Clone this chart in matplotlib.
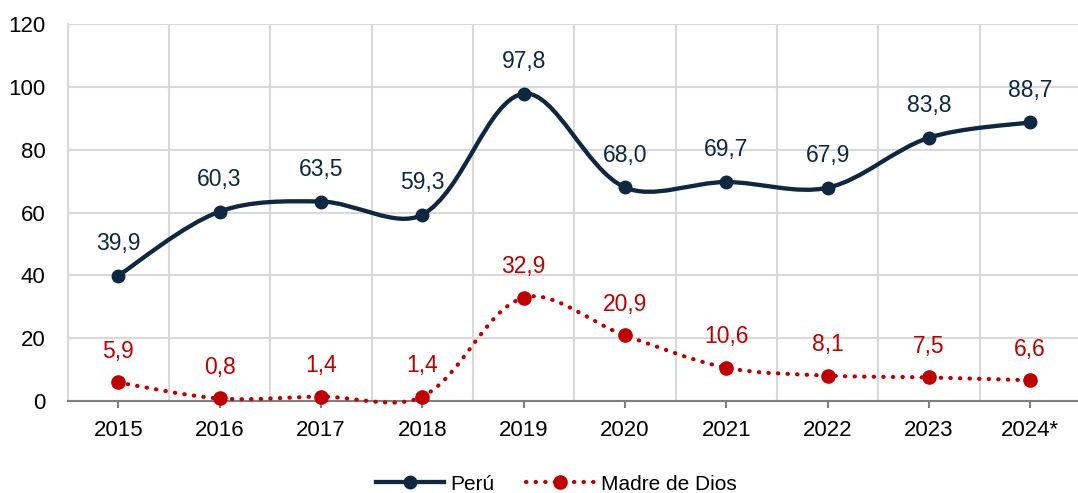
import numpy as np
import matplotlib
matplotlib.use("Agg")
import matplotlib.pyplot as plt
from matplotlib.path import Path
from matplotlib.patches import PathPatch
from matplotlib.lines import Line2D

years = ["2015", "2016", "2017", "2018", "2019", "2020", "2021", "2022", "2023", "2024*"]
peru = [39.9, 60.3, 63.5, 59.3, 97.8, 68.0, 69.7, 67.9, 83.8, 88.7]
madre = [5.9, 0.8, 1.4, 1.4, 32.9, 20.9, 10.6, 8.1, 7.5, 6.6]

NAVY = "#0E2841"
RED = "#C00000"
GRID = "#D9D9D9"
FONT = ["Liberation Sans", "DejaVu Sans"]
DOTS = (0, (0.1, 2.2))


def smooth_path(ax, xs, ys):
    """curva suavizada tipo Excel: Bezier cúbica, puntos de control calculados en pixeles
    y escalados por la longitud de cada tramo."""
    tr = ax.transData
    pts = tr.transform(np.column_stack([xs, ys]).astype(float))
    n = len(pts)
    d = np.hypot(*np.diff(pts, axis=0).T)
    verts, codes = [pts[0]], [Path.MOVETO]
    for i in range(n - 1):
        p0 = pts[max(i - 1, 0)]
        p1, p2 = pts[i], pts[i + 1]
        p3 = pts[min(i + 2, n - 1)]
        da = d[i - 1] if i > 0 else d[i]
        dc = d[i + 1] if i < n - 2 else d[i]
        c1 = p1 + (p2 - p0) * d[i] / (da + d[i]) / 3.0
        c2 = p2 - (p3 - p1) * d[i] / (d[i] + dc) / 3.0
        verts += [c1, c2, p2]
        codes += [Path.CURVE4] * 3
    return Path(tr.inverted().transform(np.array(verts)), codes)


fig = plt.figure(figsize=(10.78, 4.93), dpi=100)
ax = fig.add_axes([0.0627, 0.1866, 0.940, 0.7647])
x = np.arange(len(years))
ax.set_xlim(-0.5, len(years) - 0.5)
ax.set_ylim(0, 120)

ax.add_patch(PathPatch(smooth_path(ax, x, peru), fill=False, edgecolor=NAVY, lw=3.1,
                       capstyle="round", zorder=3, clip_on=False))
ax.plot(x, peru, "o", color=NAVY, ms=9, zorder=4)

ax.add_patch(PathPatch(smooth_path(ax, x, madre), fill=False, edgecolor=RED, lw=3,
                       linestyle=DOTS, capstyle="round", zorder=3, clip_on=False))
ax.plot(x, madre, "o", color=RED, ms=9.5, zorder=4, clip_on=False)

for xi, v in zip(x, peru):
    ax.annotate(f"{v:.1f}".replace(".", ","), (xi, v), xytext=(0, 18.5), textcoords="offset points",
                ha="center", va="baseline", color=NAVY, fontsize=16.5, family=FONT)
for xi, v in zip(x, madre):
    ax.annotate(f"{v:.1f}".replace(".", ","), (xi, v), xytext=(0, 17.5), textcoords="offset points",
                ha="center", va="baseline", color=RED, fontsize=16.5, family=FONT)

ax.set_yticks(np.arange(0, 121, 20))
ax.set_xticks(x)
ax.set_xticklabels(years)
ax.set_xticks(np.arange(-0.5, len(years), 1), minor=True)
ax.grid(True, which="minor", axis="x", color=GRID, lw=1.5)
ax.grid(True, which="major", axis="y", color=GRID, lw=1.5)
ax.set_axisbelow(True)
for s in ("top", "right"):
    ax.spines[s].set_visible(False)
ax.spines["left"].set_color(GRID)
ax.spines["left"].set_linewidth(1.5)
ax.spines["bottom"].set_color("#7F7F7F")
ax.spines["bottom"].set_linewidth(1.5)
ax.spines["bottom"].set_zorder(2.5)
ax.tick_params(axis="x", which="major", length=5, width=1.5, color="#7F7F7F", pad=9)
ax.tick_params(axis="x", which="minor", length=0)
ax.tick_params(axis="y", length=0, pad=16)
for lab in ax.get_xticklabels() + ax.get_yticklabels():
    lab.set_family(FONT)
    lab.set_fontsize(16)

handles = [Line2D([], [], color=NAVY, lw=3.1, marker="o", ms=9),
           Line2D([], [], color=RED, lw=3, ls=DOTS, dash_capstyle="round",
                  marker="o", ms=9.5)]
fig.legend(handles, ["Perú", "Madre de Dios"], loc="center", bbox_to_anchor=(0.516, 0.018),
           ncol=2, frameon=False, handlelength=3.3, columnspacing=1.5, handletextpad=0.3,
           prop={"family": FONT, "size": 15})

fig.savefig("out.png", dpi=100)
